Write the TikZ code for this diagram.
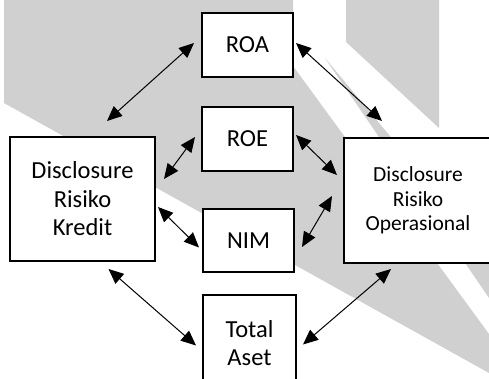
\documentclass[tikz,border=0pt]{standalone}
\usepackage{fontspec}
\setmainfont{Carlito}
\usetikzlibrary{arrows.meta}
\definecolor{bggray}{RGB}{208,208,208}
\begin{document}
\begin{tikzpicture}[x=1pt,y=-1pt,
  box/.style={draw=black,line width=2pt,fill=white,inner sep=0pt,align=center,
    font=\fontsize{24.5}{28.5}\selectfont},
  conn/.style={line width=1pt,
    {Triangle[length=15pt,width=13pt]}-{Triangle[length=15pt,width=13pt]}}]
\useasboundingbox (0,0) rectangle (489,379);
\clip (0,0) rectangle (489,379);
% background watermark shapes
\fill[bggray] (4,0) -- (293,0) -- (293,66) -- (489,334) -- (489,373) -- (4,103) -- cycle;
\fill[bggray] (325,58) -- (489,255) -- (489,298) -- cycle;
\fill[bggray] (346,0) -- (439,0) -- (439,128) -- (346,42) -- cycle;
% nodes
\node[box,minimum width=91pt,minimum height=64pt] (roa) at (247.5,45) {ROA};
\node[box,minimum width=91pt,minimum height=64pt] (roe) at (247.5,139) {ROE};
\node[box,minimum width=91pt,minimum height=63pt] (nim) at (248.5,240.5) {NIM};
\node[box,minimum width=93pt,minimum height=96pt] (total) at (249.5,343) {Total\\Aset};
\node[box,minimum width=145pt,minimum height=124pt] (kredit) at (82.5,199) {Disclosure\\Risiko\\Kredit};
\node[box,minimum width=148pt,minimum height=124pt,font=\fontsize{21.5}{24.5}\selectfont] (oper) at (418,200.5) {Disclosure\\Risiko\\Operasional};
% connectors
\draw[conn] ([xshift=24.5pt,yshift=15pt]kredit.north) -- ([xshift=-7pt,yshift=2pt]roa.west);
\draw[conn] ([xshift=2pt,yshift=2pt]roa.east) -- ([xshift=-36pt,yshift=16.5pt]oper.north);
\draw[conn] ([xshift=8pt,yshift=20pt]kredit.east) -- ([xshift=-6pt,yshift=2pt]roe.west);
\draw[conn] ([xshift=2pt,yshift=4pt]roe.east) -- ([xshift=-6pt,yshift=25.5pt]oper.west);
\draw[conn] ([xshift=2pt,yshift=-8pt]kredit.east) -- ([xshift=-3pt,yshift=-7pt]nim.west);
\draw[conn] ([xshift=7pt,yshift=-6.5pt]nim.east) -- ([xshift=-11pt,yshift=4.5pt]oper.west);
\draw[conn] ([xshift=26pt,yshift=-7pt]kredit.south) -- ([xshift=-6pt,yshift=-2.5pt]total.west);
\draw[conn] ([xshift=6pt,yshift=-1.5pt]total.east) -- ([xshift=-27pt,yshift=-5.5pt]oper.south);
\end{tikzpicture}
\end{document}
